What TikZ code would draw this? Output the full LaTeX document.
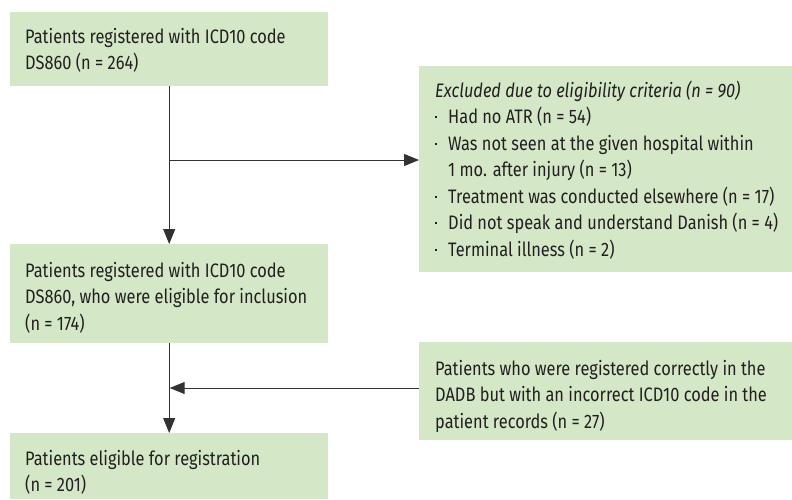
\documentclass[tikz,border=0pt]{standalone}
\usepackage{fontspec}
\setmainfont[FakeStretch=0.84]{Fira Sans}
\usetikzlibrary{arrows.meta}
\definecolor{boxgreen}{RGB}{212,232,199}
\definecolor{txt}{RGB}{35,31,32}
\definecolor{linegray}{RGB}{50,50,50}
\tikzset{
  box/.style={fill=boxgreen, draw=none, anchor=north west, inner sep=0pt},
  label/.style={anchor=north west, inner sep=0pt, align=left, text=txt,
    font=\fontsize{19.5}{26.5}\selectfont, yshift=17pt},
  arr/.style={draw=linegray, line width=1pt, -{Triangle[length=15pt,width=12pt]}},
}
\newcommand{\bul}{\makebox[13pt][l]{\raisebox{0.28em}{\rule{2.2pt}{2.2pt}}}}
\newcommand{\fs}{\rule{0pt}{17pt}}
\begin{document}
\begin{tikzpicture}[x=1pt,y=-1pt]
\useasboundingbox (0,0) rectangle (792,499);
% boxes
\node[box, minimum width=318pt, minimum height=74pt] (b1) at (10,12) {};
\node[box, minimum width=318pt, minimum height=99pt] (b2) at (10,244) {};
\node[box, minimum width=318pt, minimum height=66pt] (b3) at (10,433) {};
\node[box, minimum width=373pt, minimum height=206pt] (ex) at (419,66) {};
\node[box, minimum width=373pt, minimum height=98pt] (r2) at (419,342) {};
% texts (position = first baseline)
\node[label] (t1) at (25,43) {\fs Patients registered with ICD10 code\\DS860 (n = 264)};
\node[label] (t2) at (25,277) {\fs Patients registered with ICD10 code\\DS860, who were eligible for inclusion\\(n = 174)};
\node[label] (t3) at (25,465) {\fs Patients eligible for registration\\(n = 201)};
\node[label] (tex) at (435,97) {\fs\textit{Excluded due to eligibility criteria (n = 90)}\\
\bul Had no ATR (n = 54)\\
\bul Was not seen at the given hospital within\\
\hspace*{13pt}1 mo. after injury (n = 13)\\
\bul Treatment was conducted elsewhere (n = 17)\\
\bul Did not speak and understand Danish (n = 4)\\
\bul Terminal illness (n = 2)};
\node[label] (tr2) at (435,375) {\fs Patients who were registered correctly in the\\DADB but with an incorrect ICD10 code in the\\patient records (n = 27)};
% connectors
\coordinate (j1) at (b1.south |- 0,160);
\coordinate (j2) at (b2.south |- 0,388);
\draw[arr] (b1.south) -- (b2.north);
\draw[arr] (j1) -- (j1 -| ex.west);
\draw[arr] (b2.south) -- (b3.north);
\draw[arr] (j2 -| r2.west) -- ([xshift=0.5pt]j2);
\end{tikzpicture}
\end{document}
